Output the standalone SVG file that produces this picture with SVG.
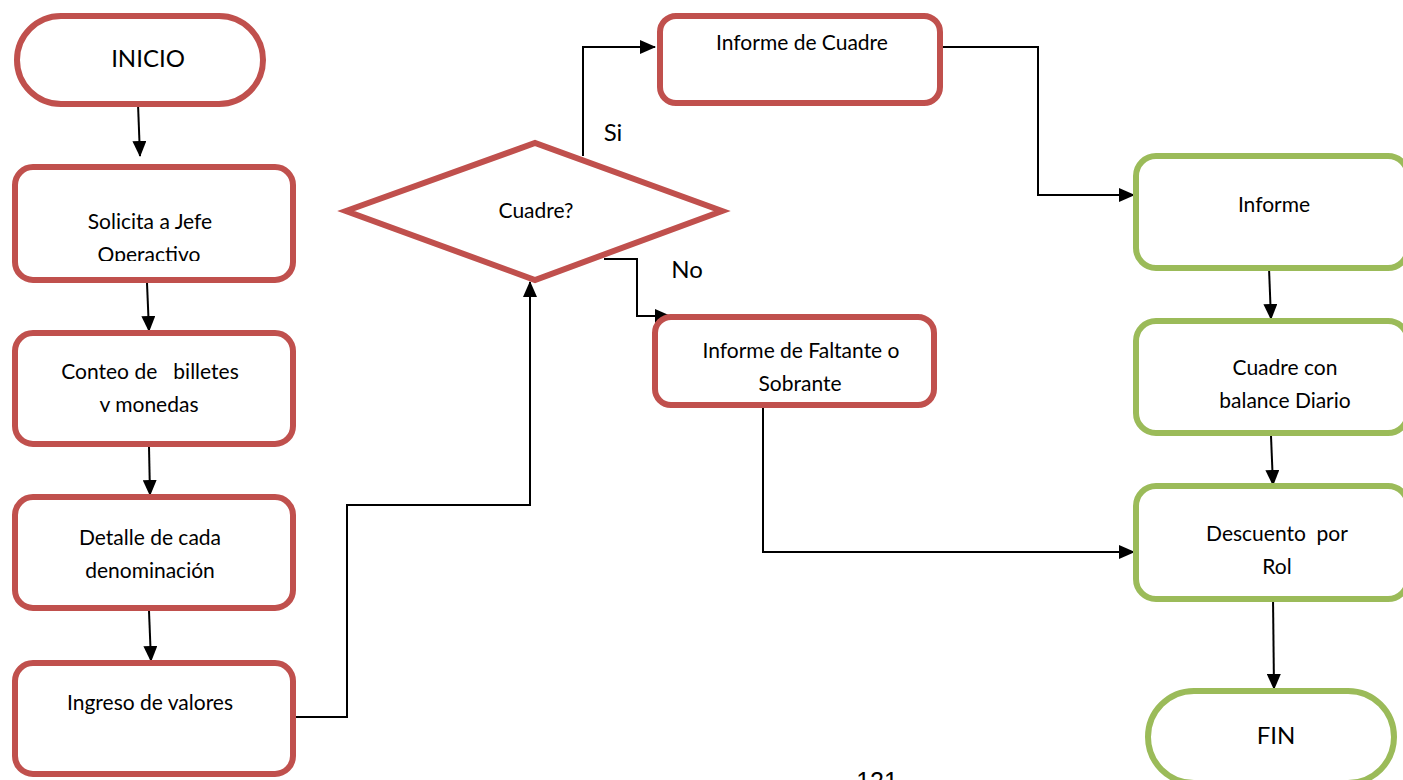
<svg xmlns="http://www.w3.org/2000/svg" width="1403" height="780" viewBox="0 0 1403 780">
  <style>
    .red { fill: #fff; stroke: #C0504D; stroke-width: 6; }
    .green { fill: #fff; stroke: #9BBB59; stroke-width: 6; }
    .lbl { font-family: Lato, "Liberation Sans", sans-serif; font-size: 21px; fill: #000; text-anchor: middle; }
    .big { font-family: Lato, "Liberation Sans", sans-serif; font-size: 24px; fill: #000; text-anchor: middle; }
    .conn { fill: none; stroke: #000; stroke-width: 2; }
  </style>
  <defs>
    <marker id="arrow" markerUnits="userSpaceOnUse" markerWidth="16" markerHeight="14" refX="15" refY="7" orient="auto">
      <path d="M0,0 L16,7 L0,14 Z" fill="#000"/>
    </marker>
    <clipPath id="clipSolicita"><rect x="0" y="160" width="300" height="101"/></clipPath>
    <clipPath id="clipConteo"><rect x="0" y="330" width="300" height="82"/></clipPath>
  </defs>
  <rect width="1403" height="780" fill="#fff"/>

  <!-- connectors -->
  <g id="connectors">
    <path class="conn" d="M138,104 L140,156" marker-end="url(#arrow)"/>
    <path class="conn" d="M147,283 L149,331" marker-end="url(#arrow)"/>
    <path class="conn" d="M149,447 L150,495" marker-end="url(#arrow)"/>
    <path class="conn" d="M149,611 L151,661" marker-end="url(#arrow)"/>
    <path class="conn" d="M296,717 L347,717 L347,505 L530,505 L530,282" marker-end="url(#arrow)"/>
    <path class="conn" d="M583,156 L583,47 L655,47" marker-end="url(#arrow)"/>
    <path class="conn" d="M604,259 L637,259 L637,316 L670,316" marker-end="url(#arrow)"/>
    <path class="conn" d="M943,47 L1038,47 L1038,195 L1134,195" marker-end="url(#arrow)"/>
    <path class="conn" d="M757,406 L763,406 L763,552 L1134,552" marker-end="url(#arrow)"/>
    <path class="conn" d="M1269,268 L1271,319" marker-end="url(#arrow)"/>
    <path class="conn" d="M1271,436 L1273,485" marker-end="url(#arrow)"/>
    <path class="conn" d="M1273,598 L1274,689" marker-end="url(#arrow)"/>
  </g>

  <!-- start -->
  <g id="inicio">
    <rect class="red" x="17" y="16" width="246" height="88" rx="44"/>
    <text class="big" x="148" y="67">INICIO</text>
  </g>

  <g id="solicita">
    <rect class="red" x="15" y="167" width="278" height="113" rx="18"/>
    <g clip-path="url(#clipSolicita)">
      <text class="lbl" x="150" y="229">Solicita a Jefe</text>
      <text class="lbl" x="149" y="262">Operactivo</text>
    </g>
  </g>

  <g id="conteo">
    <rect class="red" x="15" y="333" width="278" height="111" rx="18"/>
    <g clip-path="url(#clipConteo)">
      <text class="lbl" x="150" y="379" xml:space="preserve">Conteo de   billetes</text>
      <text class="lbl" x="149" y="412">y monedas</text>
    </g>
  </g>

  <g id="detalle">
    <rect class="red" x="15" y="497" width="278" height="111" rx="18"/>
    <text class="lbl" x="150" y="545">Detalle de cada</text>
    <text class="lbl" x="150" y="578">denominación</text>
  </g>

  <g id="ingreso">
    <rect class="red" x="15" y="663" width="278" height="111" rx="18"/>
    <text class="lbl" x="150" y="710">Ingreso de valores</text>
  </g>

  <!-- decision -->
  <g id="cuadre">
    <polygon class="red" points="346,211 535,143 722,211 535,280"/>
    <text class="lbl" x="536" y="218">Cuadre?</text>
  </g>
  <text class="big" x="613" y="141">Si</text>
  <text class="big" x="687" y="278">No</text>

  <g id="informe-cuadre">
    <rect class="red" x="660" y="16" width="280" height="87" rx="16"/>
    <text class="lbl" x="802" y="50">Informe de Cuadre</text>
  </g>

  <g id="informe-faltante">
    <rect class="red" x="655" y="317" width="279" height="88" rx="16"/>
    <text class="lbl" x="801" y="358">Informe de Faltante o</text>
    <text class="lbl" x="800" y="391">Sobrante</text>
  </g>

  <g id="informe">
    <rect class="green" x="1136" y="156" width="272" height="112" rx="20"/>
    <text class="lbl" x="1274" y="212">Informe</text>
  </g>

  <g id="cuadre-balance">
    <rect class="green" x="1136" y="321" width="272" height="112" rx="20"/>
    <text class="lbl" x="1285" y="375">Cuadre con</text>
    <text class="lbl" x="1285" y="408">balance Diario</text>
  </g>

  <g id="descuento">
    <rect class="green" x="1136" y="486" width="272" height="113" rx="20"/>
    <text class="lbl" x="1277" y="541" xml:space="preserve">Descuento  por</text>
    <text class="lbl" x="1277" y="574">Rol</text>
  </g>

  <g id="fin">
    <rect class="green" x="1148" y="691" width="246" height="92" rx="46"/>
    <text class="big" x="1276" y="744">FIN</text>
  </g>

  <!-- page number -->
  <text x="877" y="790" font-family="'Liberation Sans', Arial, sans-serif" font-size="25" text-anchor="middle" fill="#000">121</text>
</svg>
